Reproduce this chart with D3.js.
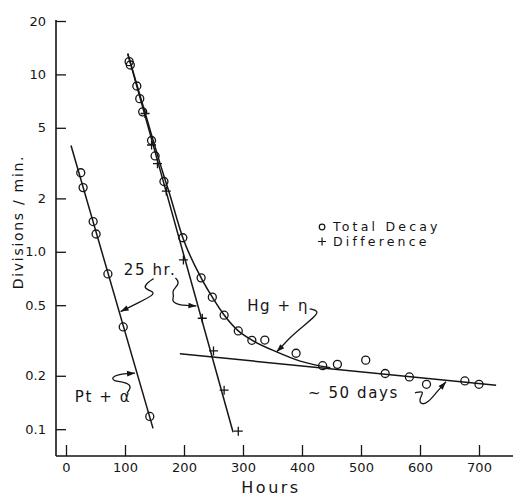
<!DOCTYPE html>
<html>
<head>
<meta charset="utf-8">
<script src="https://cdn.jsdelivr.net/npm/d3@7"></script>
<style>
  body { margin: 0; background: #fff; }
  text { font-family: "DejaVu Sans", sans-serif; fill: #151515; }
</style>
</head>
<body>
<div id="chart"></div>
<script>
// axis ticks
const hourTicks = [0, 100, 200, 300, 400, 500, 600, 700];
const rateTicks = [0.1, 0.2, 0.5, 1, 2, 5, 10, 20];
const rateTickLabels = ["0.1", "0.2", "0.5", "1.0", "2", "5", "10", "20"];

// Pt + alpha, total decay (circles)
const ptHours = [25, 29, 46, 51, 71, 97, 142];
const ptRates = [2.79, 2.30, 1.48, 1.26, 0.75, 0.377, 0.118];

// Hg + n, total decay (circles)
const hgHours = [107, 109, 120, 125, 130, 145, 151, 166, 198, 229, 248, 268, 292, 315, 337, 390, 435, 460, 508, 541, 582, 611, 676, 700];
const hgRates = [11.8, 11.3, 8.6, 7.3, 6.15, 4.24, 3.47, 2.49, 1.2, 0.713, 0.555, 0.439, 0.358, 0.317, 0.318, 0.268, 0.228, 0.232, 0.245, 0.206, 0.197, 0.179, 0.187, 0.179];

// Hg + n, difference (crosses)
const diffHours = [134, 145, 155, 170, 199, 231, 250, 268, 292];
const diffRates = [6.02, 4.0, 3.14, 2.2, 0.9, 0.422, 0.276, 0.166, 0.0975];

// fitted lines
const ptFitHours = [8.5, 147.5];
const ptFitRates = [3.97, 0.101];
const diffFitHours = [104.7, 283.2];
const diffFitRates = [13.1, 0.096];
const longFitHours = [193, 729];
const longFitRates = [0.266, 0.177];
const totalFitHours = [104.7, 140, 160, 175, 198, 229, 248, 268, 292, 315, 358, 397, 448];
const totalFitRates = [13.1, 5.2, 3.1, 2.15, 1.2, 0.713, 0.555, 0.44, 0.358, 0.318, 0.272, 0.242, 0.222];

// labels
const noteTexts = ["25 hr.", "Pt + α", "Hg + η", "~ 50 days"];
const legendTexts = ["Total Decay", "Difference"];

const width = 515, height = 496;
const axisLeftX = 56, axisBottomY = 456, axisTopY = 20, axisRightX = 513;

const x = d3.scaleLinear().domain([0, 700]).range([66, 479]);
const y = d3.scaleLog().domain([0.0706, 20]).range([axisBottomY, 21]);

const svg = d3.select("#chart").append("svg")
    .attr("width", width)
    .attr("height", height);

const ink = "#151515";

// axes
svg.append("line")
    .attr("x1", axisLeftX).attr("x2", axisLeftX)
    .attr("y1", axisTopY).attr("y2", axisBottomY)
    .attr("stroke", ink).attr("stroke-width", 1.6);
svg.append("line")
    .attr("x1", axisLeftX).attr("x2", axisRightX)
    .attr("y1", axisBottomY).attr("y2", axisBottomY)
    .attr("stroke", ink).attr("stroke-width", 1.6);

svg.append("g")
    .attr("transform", `translate(0,${axisBottomY})`)
    .call(d3.axisBottom(x).tickValues(hourTicks).tickSizeInner(-11).tickSizeOuter(0).tickPadding(7))
    .call(g => g.select(".domain").remove())
    .call(g => g.selectAll(".tick line").attr("stroke", ink).attr("stroke-width", 1.3))
    .call(g => g.selectAll(".tick text").attr("font-size", 13).attr("fill", ink)
        .style("font-family", '"DejaVu Sans", sans-serif'));

svg.append("g")
    .attr("transform", `translate(${axisLeftX},0)`)
    .call(d3.axisLeft(y).tickValues(rateTicks).tickFormat((d, i) => rateTickLabels[i])
        .tickSizeInner(-10).tickSizeOuter(0).tickPadding(10))
    .call(g => g.select(".domain").remove())
    .call(g => g.selectAll(".tick line").attr("stroke", ink).attr("stroke-width", 1.3))
    .call(g => g.selectAll(".tick text").attr("font-size", 13).attr("fill", ink)
        .style("font-family", '"DejaVu Sans", sans-serif'));

svg.append("text")
    .attr("x", 271).attr("y", 493)
    .attr("text-anchor", "middle")
    .attr("font-size", 16)
    .attr("letter-spacing", 2.5)
    .text("Hours");

svg.append("text")
    .attr("transform", "translate(23,222) rotate(-90)")
    .attr("text-anchor", "middle")
    .attr("font-size", 14)
    .attr("letter-spacing", 1.7)
    .text("Divisions / min.");

// fitted lines
const line = d3.line().x(d => x(d[0])).y(d => y(d[1]));
const smooth = d3.line().x(d => x(d[0])).y(d => y(d[1])).curve(d3.curveMonotoneX);

const fits = [
    [ptFitHours, ptFitRates, line],
    [diffFitHours, diffFitRates, line],
    [longFitHours, longFitRates, line],
    [totalFitHours, totalFitRates, smooth]
];
fits.forEach(([hs, rs, gen]) => {
    svg.append("path")
        .datum(hs.map((h, i) => [h, rs[i]]))
        .attr("d", gen)
        .attr("fill", "none")
        .attr("stroke", ink)
        .attr("stroke-width", 1.5);
});

// circles
const circleData = ptHours.map((h, i) => [h, ptRates[i]])
    .concat(hgHours.map((h, i) => [h, hgRates[i]]));
svg.append("g")
    .selectAll("circle")
    .data(circleData)
    .join("circle")
    .attr("cx", d => x(d[0]))
    .attr("cy", d => y(d[1]))
    .attr("r", 4)
    .attr("fill", "none")
    .attr("stroke", ink)
    .attr("stroke-width", 1.3);

// crosses
const cross = s => `M${-s},0H${s}M0,${-s}V${s}`;
svg.append("g")
    .selectAll("path")
    .data(diffHours.map((h, i) => [h, diffRates[i]]))
    .join("path")
    .attr("transform", d => `translate(${x(d[0])},${y(d[1])})`)
    .attr("d", cross(4.5))
    .attr("fill", "none")
    .attr("stroke", ink)
    .attr("stroke-width", 1.3);

// annotation texts (anchored in data units)
const noteAnchors = [[98, 0.79], [15, 0.152], [307, 0.495], [410, 0.16]];
svg.append("g")
    .selectAll("text")
    .data(noteTexts)
    .join("text")
    .attr("x", (d, i) => x(noteAnchors[i][0]))
    .attr("y", (d, i) => y(noteAnchors[i][1]))
    .attr("dy", "0.35em")
    .attr("font-size", 15)
    .attr("letter-spacing", 1.6)
    .text(d => d);

// squiggly arrows: tip in data units, body as pixel offsets from the tip
const arrows = [
    { tip: [92.5, 0.46], body: [[33, -33], [27, -29], [23, -24], [29, -21], [36, -18], [18, -9]] },
    { tip: [221, 0.495], body: [[-21, -28], [-16, -23], [-25, -15], [-22, -10], [-25, -5], [-18, -1], [-9, -0.5]] },
    { tip: [117, 0.207], body: [[-8, 20], [-3, 13], [-10, 9], [-22, 8], [-23, 4], [-17, 1.5], [-8, 0.5]] },
    { tip: [357, 0.273], body: [[33, -43], [42, -41], [39, -36], [26, -25], [13, -14], [6, -6]] },
    { tip: [644, 0.185], body: [[-31, 11], [-21, 9], [-27, 17], [-25, 23], [-18, 21], [-9, 10], [-4, 4.5]] }
];
const squiggle = d3.line().curve(d3.curveBasis);
arrows.forEach(a => {
    const tx = x(a.tip[0]), ty = y(a.tip[1]);
    const pts = a.body.map(p => [tx + p[0], ty + p[1]]).concat([[tx, ty]]);
    svg.append("path")
        .attr("d", squiggle(pts))
        .attr("fill", "none")
        .attr("stroke", ink)
        .attr("stroke-width", 1.3);
    const prev = pts[pts.length - 2];
    const ang = Math.atan2(ty - prev[1], tx - prev[0]) * 180 / Math.PI;
    svg.append("path")
        .attr("transform", `translate(${tx},${ty}) rotate(${ang})`)
        .attr("d", "M0,0L-8,-2.8L-8,2.8Z")
        .attr("fill", ink);
});

// legend
const legendAnchor = [434, 1.38];
const legendStep = 14.5;
const lx = x(legendAnchor[0]), ly = y(legendAnchor[1]);
svg.append("circle")
    .attr("cx", lx).attr("cy", ly).attr("r", 2.8)
    .attr("fill", "none").attr("stroke", ink).attr("stroke-width", 1.2);
svg.append("path")
    .attr("transform", `translate(${lx},${ly + legendStep})`)
    .attr("d", cross(4))
    .attr("fill", "none").attr("stroke", ink).attr("stroke-width", 1.2);
svg.append("g")
    .selectAll("text")
    .data(legendTexts)
    .join("text")
    .attr("x", lx + 11)
    .attr("y", (d, i) => ly + i * legendStep)
    .attr("dy", "0.35em")
    .attr("font-size", 12.5)
    .attr("letter-spacing", 3.2)
    .text(d => d);
</script>
</body>
</html>
